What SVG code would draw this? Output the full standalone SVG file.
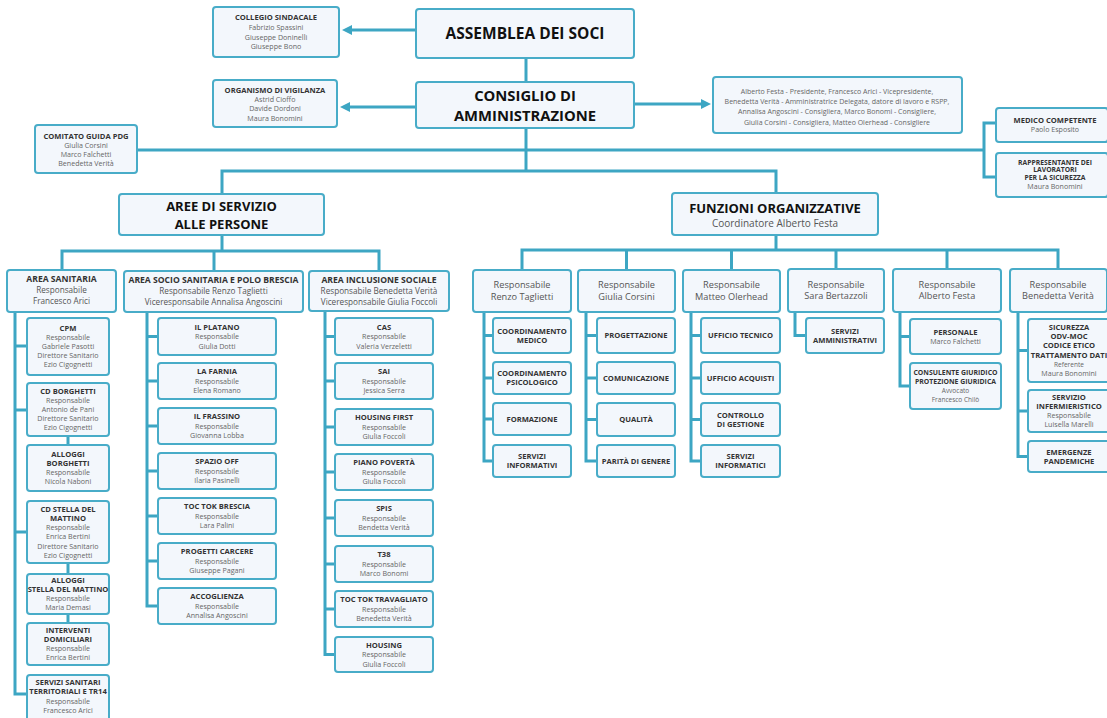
<svg xmlns="http://www.w3.org/2000/svg" width="1107" height="718" viewBox="0 0 1107 718">
<defs>
<style>
.b{fill:#F3F7FC;stroke:#48ACC8;stroke-width:2}
.c{fill:none;stroke:#3DA6C3;stroke-width:3;stroke-linejoin:miter}
text{font-family:'Open Sans','Noto Sans',sans-serif;text-anchor:middle}
.h1{font-size:15.5px;font-weight:bold;fill:#111}
.h2{font-size:13px;font-weight:bold;fill:#111}
.sub{font-size:10px;fill:#555}
.at{font-size:8.6px;font-weight:bold;fill:#333}
.ar{font-size:8.2px;fill:#555}
.fr{font-size:9.2px;fill:#555}
.ct{font-size:7.6px;font-weight:bold;fill:#333}
.cr{font-size:7.1px;fill:#666}
</style>
<marker id="ah" markerUnits="userSpaceOnUse" markerWidth="11" markerHeight="11" refX="0" refY="5.5" orient="auto"><path d="M0,0.5 L10,5.5 L0,10.5 z" fill="#3DA6C3"/></marker>
</defs>
<rect width="1107" height="718" fill="#fff"/>

<g id="connectors">
<path class="c" d="M416,30 H352" marker-end="url(#ah)"/>
<path class="c" d="M416,107 H350" marker-end="url(#ah)"/>
<path class="c" d="M634,104 H701" marker-end="url(#ah)"/>
<path class="c" d="M526,58 V82"/>
<path class="c" d="M526,128 V171"/>
<path class="c" d="M137,150 H984"/>
<path class="c" d="M996,123 H984 V177 H996"/>
<path class="c" d="M222,194 V171 H776 V193"/>
<path class="c" d="M222,235 V251"/>
<path class="c" d="M62,270 V251 H379 V271"/>
<path class="c" d="M214,251 V271"/>
<path class="c" d="M776,235 V250"/>
<path class="c" d="M522,270 V250 H1058 V269"/>
<path class="c" d="M626.5,250 V270"/>
<path class="c" d="M731.5,250 V270"/>
<path class="c" d="M836,250 V269"/>
<path class="c" d="M947,250 V269"/>
<path class="c" d="M15,312 V694 H27"/>
<path class="c" d="M15,346 H27"/>
<path class="c" d="M15,410 H27"/>
<path class="c" d="M15,532 H27"/>
<path class="c" d="M68,436 V445"/>
<path class="c" d="M68,563 V574"/>
<path class="c" d="M68,614 V623"/>
<path class="c" d="M147,312 V606 H158"/>
<path class="c" d="M147,336.5 H158 M147,381 H158 M147,426 H158 M147,471 H158 M147,516 H158 M147,561 H158"/>
<path class="c" d="M325,311 V654.5 H335"/>
<path class="c" d="M325,336.5 H335 M325,381 H335 M325,427 H335 M325,472 H335 M325,518 H335 M325,564 H335 M325,609 H335"/>
<path class="c" d="M484,312 V461 H493"/>
<path class="c" d="M484,335.5 H493 M484,378 H493 M484,419 H493"/>
<path class="c" d="M586,312 V461 H597"/>
<path class="c" d="M586,335.5 H597 M586,378 H597 M586,419.5 H597"/>
<path class="c" d="M691,312 V461 H701"/>
<path class="c" d="M691,335.5 H701 M691,378 H701 M691,419.5 H701"/>
<path class="c" d="M795,312 V335.5 H806"/>
<path class="c" d="M900,312 V386 H910"/>
<path class="c" d="M900,336.5 H910"/>
<path class="c" d="M1018,312 V456.5 H1028"/>
<path class="c" d="M1018,350.5 H1028 M1018,411 H1028"/>
</g>

<g id="collegio"><rect class="b" x="213" y="7" width="126" height="50" rx="3"/>
<text class="ct" x="276" y="20">COLLEGIO SINDACALE</text>
<text class="cr" x="276" y="30">Fabrizio Spassini</text>
<text class="cr" x="276" y="39.5">Giuseppe Doninelli</text>
<text class="cr" x="276" y="49">Giuseppe Bono</text></g>

<g id="assemblea"><rect class="b" x="416" y="9" width="218" height="49" rx="3"/>
<text class="h1" x="525" y="39">ASSEMBLEA DEI SOCI</text></g>

<g id="organismo"><rect class="b" x="213" y="80" width="124" height="47" rx="3"/>
<text class="ct" x="275" y="92.5">ORGANISMO DI VIGILANZA</text>
<text class="cr" x="275" y="101.5">Astrid Cioffo</text>
<text class="cr" x="275" y="111">Davide Dordoni</text>
<text class="cr" x="275" y="120.5">Maura Bonomini</text></g>

<g id="cda"><rect class="b" x="416" y="82" width="218" height="46" rx="3"/>
<text class="h1" x="525" y="100.5" style="font-size:14.8px">CONSIGLIO DI</text>
<text class="h1" x="525" y="121" style="font-size:14.8px">AMMINISTRAZIONE</text></g>

<g id="membri"><rect class="b" x="713" y="77" width="249" height="56" rx="3"/>
<text class="cr" x="837" y="93.5" style="font-size:7px">Alberto Festa - Presidente, Francesco Arici - Vicepresidente,</text>
<text class="cr" x="837" y="103.8" style="font-size:7px">Benedetta Verità - Amministratrice Delegata, datore di lavoro e RSPP,</text>
<text class="cr" x="837" y="114.2" style="font-size:7px">Annalisa Angoscini - Consigliera, Marco Bonomi - Consigliere,</text>
<text class="cr" x="837" y="124.5" style="font-size:7px">Giulia Corsini - Consigliera, Matteo Olerhead - Consigliere</text></g>

<g id="comitato"><rect class="b" x="35" y="125" width="102" height="48" rx="3"/>
<text class="ct" x="86" y="138.5">COMITATO GUIDA PDG</text>
<text class="cr" x="86" y="147.5">Giulia Corsini</text>
<text class="cr" x="86" y="156.5">Marco Falchetti</text>
<text class="cr" x="86" y="165.5">Benedetta Verità</text></g>

<g id="medico"><rect class="b" x="996" y="108" width="112" height="34" rx="3"/>
<text class="ct" x="1055" y="122.5">MEDICO COMPETENTE</text>
<text class="cr" x="1055" y="131.5">Paolo Esposito</text></g>

<g id="rls"><rect class="b" x="996" y="153" width="112" height="44" rx="3"/>
<text class="ct" x="1055" y="164.5" style="font-size:6.8px">RAPPRESENTANTE DEI</text>
<text class="ct" x="1055" y="172" style="font-size:6.8px">LAVORATORI</text>
<text class="ct" x="1055" y="179.5" style="font-size:6.8px">PER LA SICUREZZA</text>
<text class="cr" x="1055" y="188.5">Maura Bonomini</text></g>

<g id="aree"><rect class="b" x="119" y="194" width="205" height="41" rx="3"/>
<text class="h2" x="221.5" y="211">AREE DI SERVIZIO</text>
<text class="h2" x="221.5" y="229">ALLE PERSONE</text></g>

<g id="funzioni"><rect class="b" x="672" y="193" width="206" height="42" rx="3"/>
<text class="h2" x="775" y="213">FUNZIONI ORGANIZZATIVE</text>
<text class="sub" x="775" y="227">Coordinatore Alberto Festa</text></g>

<g id="area-sanitaria"><rect class="b" x="7" y="270" width="109" height="42" rx="3"/>
<text class="at" x="61.5" y="282">AREA SANITARIA</text>
<text class="ar" x="61.5" y="293">Responsabile</text>
<text class="ar" x="61.5" y="304">Francesco Arici</text></g>

<g id="area-socio"><rect class="b" x="124" y="271" width="179" height="41" rx="3"/>
<text class="at" x="213.5" y="283">AREA SOCIO SANITARIA E POLO BRESCIA</text>
<text class="ar" x="213.5" y="294">Responsabile Renzo Taglietti</text>
<text class="ar" x="213.5" y="304.5">Viceresponsabile Annalisa Angoscini</text></g>

<g id="area-inclusione"><rect class="b" x="309" y="271" width="140" height="40" rx="3"/>
<text class="at" x="379" y="283">AREA INCLUSIONE SOCIALE</text>
<text class="ar" x="379" y="294">Responsabile Benedetta Verità</text>
<text class="ar" x="379" y="304.5">Viceresponsabile Giulia Foccoli</text></g>

<g id="cpm"><rect class="b" x="27" y="318" width="82" height="57" rx="3"/>
<text class="ct" x="68" y="331">CPM</text>
<text class="cr" x="68" y="340">Responsabile</text>
<text class="cr" x="68" y="349">Gabriele Pasotti</text>
<text class="cr" x="68" y="358">Direttore Sanitario</text>
<text class="cr" x="68" y="367">Ezio Cigognetti</text></g>

<g id="cd-borghetti"><rect class="b" x="27" y="383" width="82" height="53" rx="3"/>
<text class="ct" x="68" y="394">CD BORGHETTI</text>
<text class="cr" x="68" y="403">Responsabile</text>
<text class="cr" x="68" y="412">Antonio de Pani</text>
<text class="cr" x="68" y="421">Direttore Sanitario</text>
<text class="cr" x="68" y="430">Ezio Cigognetti</text></g>

<g id="alloggi-borghetti"><rect class="b" x="27" y="445" width="82" height="46" rx="3"/>
<text class="ct" x="68" y="457">ALLOGGI</text>
<text class="ct" x="68" y="466">BORGHETTI</text>
<text class="cr" x="68" y="475">Responsabile</text>
<text class="cr" x="68" y="484">Nicola Naboni</text></g>

<g id="cd-stella"><rect class="b" x="27" y="501" width="82" height="62" rx="3"/>
<text class="ct" x="68" y="511.5">CD STELLA DEL</text>
<text class="ct" x="68" y="520.8">MATTINO</text>
<text class="cr" x="68" y="530.1">Responsabile</text>
<text class="cr" x="68" y="539.4">Enrica Bertini</text>
<text class="cr" x="68" y="548.7">Direttore Sanitario</text>
<text class="cr" x="68" y="558">Ezio Cigognetti</text></g>

<g id="alloggi-stella"><rect class="b" x="27" y="574" width="82" height="40" rx="3"/>
<text class="ct" x="68" y="583">ALLOGGI</text>
<text class="ct" x="68" y="592">STELLA DEL MATTINO</text>
<text class="cr" x="68" y="601">Responsabile</text>
<text class="cr" x="68" y="610">Maria Demasi</text></g>

<g id="interventi"><rect class="b" x="27" y="623" width="82" height="42" rx="3"/>
<text class="ct" x="68" y="633">INTERVENTI</text>
<text class="ct" x="68" y="642">DOMICILIARI</text>
<text class="cr" x="68" y="651">Responsabile</text>
<text class="cr" x="68" y="660">Enrica Bertini</text></g>

<g id="servizi-sanitari"><rect class="b" x="27" y="675" width="82" height="48" rx="3"/>
<text class="ct" x="68" y="684.5">SERVIZI SANITARI</text>
<text class="ct" x="68" y="694">TERRITORIALI E TR14</text>
<text class="cr" x="68" y="703.5">Responsabile</text>
<text class="cr" x="68" y="712.5">Francesco Arici</text></g>

<g id="platano"><rect class="b" x="158" y="318" width="118" height="37" rx="3"/>
<text class="ct" x="217" y="329.5">IL PLATANO</text>
<text class="cr" x="217" y="339">Responsabile</text>
<text class="cr" x="217" y="348.5">Giulia Dotti</text></g>
<g id="farnia"><rect class="b" x="158" y="363" width="118" height="36" rx="3"/>
<text class="ct" x="217" y="374">LA FARNIA</text>
<text class="cr" x="217" y="383.5">Responsabile</text>
<text class="cr" x="217" y="393">Elena Romano</text></g>
<g id="frassino"><rect class="b" x="158" y="408" width="118" height="36" rx="3"/>
<text class="ct" x="217" y="419">IL FRASSINO</text>
<text class="cr" x="217" y="428.5">Responsabile</text>
<text class="cr" x="217" y="438">Giovanna Lobba</text></g>
<g id="spazio-off"><rect class="b" x="158" y="453" width="118" height="36" rx="3"/>
<text class="ct" x="217" y="464">SPAZIO OFF</text>
<text class="cr" x="217" y="473.5">Responsabile</text>
<text class="cr" x="217" y="483">Ilaria Pasinelli</text></g>
<g id="toc-tok-brescia"><rect class="b" x="158" y="498" width="118" height="36" rx="3"/>
<text class="ct" x="217" y="509">TOC TOK BRESCIA</text>
<text class="cr" x="217" y="518.5">Responsabile</text>
<text class="cr" x="217" y="528">Lara Palini</text></g>
<g id="progetti-carcere"><rect class="b" x="158" y="543" width="118" height="36" rx="3"/>
<text class="ct" x="217" y="554">PROGETTI CARCERE</text>
<text class="cr" x="217" y="563.5">Responsabile</text>
<text class="cr" x="217" y="573">Giuseppe Pagani</text></g>
<g id="accoglienza"><rect class="b" x="158" y="588" width="118" height="36" rx="3"/>
<text class="ct" x="217" y="599">ACCOGLIENZA</text>
<text class="cr" x="217" y="608.5">Responsabile</text>
<text class="cr" x="217" y="618">Annalisa Angoscini</text></g>

<g id="cas"><rect class="b" x="335" y="318" width="98" height="37" rx="3"/>
<text class="ct" x="384" y="329.5">CAS</text>
<text class="cr" x="384" y="339">Responsabile</text>
<text class="cr" x="384" y="348.5">Valeria Verzeletti</text></g>
<g id="sai"><rect class="b" x="335" y="363" width="98" height="36" rx="3"/>
<text class="ct" x="384" y="374">SAI</text>
<text class="cr" x="384" y="383.5">Responsabile</text>
<text class="cr" x="384" y="393">Jessica Serra</text></g>
<g id="housing-first"><rect class="b" x="335" y="409" width="98" height="36" rx="3"/>
<text class="ct" x="384" y="420">HOUSING FIRST</text>
<text class="cr" x="384" y="429.5">Responsabile</text>
<text class="cr" x="384" y="439">Giulia Foccoli</text></g>
<g id="piano-poverta"><rect class="b" x="335" y="454" width="98" height="36" rx="3"/>
<text class="ct" x="384" y="465">PIANO POVERTÀ</text>
<text class="cr" x="384" y="474.5">Responsabile</text>
<text class="cr" x="384" y="484">Giulia Foccoli</text></g>
<g id="spis"><rect class="b" x="335" y="500" width="98" height="36" rx="3"/>
<text class="ct" x="384" y="511">SPIS</text>
<text class="cr" x="384" y="520.5">Responsabile</text>
<text class="cr" x="384" y="530">Bendetta Verità</text></g>
<g id="t38"><rect class="b" x="335" y="546" width="98" height="36" rx="3"/>
<text class="ct" x="384" y="557">T38</text>
<text class="cr" x="384" y="566.5">Responsabile</text>
<text class="cr" x="384" y="576">Marco Bonomi</text></g>
<g id="toc-tok-travagliato"><rect class="b" x="335" y="591" width="98" height="36" rx="3"/>
<text class="ct" x="384" y="602">TOC TOK TRAVAGLIATO</text>
<text class="cr" x="384" y="611.5">Responsabile</text>
<text class="cr" x="384" y="621">Benedetta Verità</text></g>
<g id="housing"><rect class="b" x="335" y="637" width="98" height="35" rx="3"/>
<text class="ct" x="384" y="647.5">HOUSING</text>
<text class="cr" x="384" y="657">Responsabile</text>
<text class="cr" x="384" y="666.5">Giulia Foccoli</text></g>

<g id="resp-taglietti"><rect class="b" x="473" y="270" width="98" height="42" rx="3"/>
<text class="fr" x="522" y="288">Responsabile</text>
<text class="fr" x="522" y="299.5">Renzo Taglietti</text></g>
<g id="resp-corsini"><rect class="b" x="578" y="270" width="97" height="42" rx="3"/>
<text class="fr" x="626.5" y="288">Responsabile</text>
<text class="fr" x="626.5" y="299.5">Giulia Corsini</text></g>
<g id="resp-olerhead"><rect class="b" x="683" y="270" width="97" height="42" rx="3"/>
<text class="fr" x="731.5" y="288">Responsabile</text>
<text class="fr" x="731.5" y="299.5">Matteo Olerhead</text></g>
<g id="resp-bertazzoli"><rect class="b" x="788" y="269" width="96" height="43" rx="3"/>
<text class="fr" x="836" y="287.5">Responsabile</text>
<text class="fr" x="836" y="299">Sara Bertazzoli</text></g>
<g id="resp-festa"><rect class="b" x="893" y="269" width="108" height="43" rx="3"/>
<text class="fr" x="947" y="287.5">Responsabile</text>
<text class="fr" x="947" y="299">Alberto Festa</text></g>
<g id="resp-verita"><rect class="b" x="1010" y="269" width="97" height="43" rx="3"/>
<text class="fr" x="1058" y="287.5">Responsabile</text>
<text class="fr" x="1058" y="299">Benedetta Verità</text></g>

<g id="coord-medico"><rect class="b" x="493" y="318" width="78" height="35" rx="3"/>
<text class="ct" x="532" y="333.5">COORDINAMENTO</text>
<text class="ct" x="532" y="342.5">MEDICO</text></g>
<g id="coord-psicologico"><rect class="b" x="493" y="362" width="78" height="32" rx="3"/>
<text class="ct" x="532" y="376">COORDINAMENTO</text>
<text class="ct" x="532" y="385">PSICOLOGICO</text></g>
<g id="formazione"><rect class="b" x="493" y="403" width="78" height="32" rx="3"/>
<text class="ct" x="532" y="421.5">FORMAZIONE</text></g>
<g id="servizi-informativi"><rect class="b" x="493" y="445" width="78" height="32" rx="3"/>
<text class="ct" x="532" y="459">SERVIZI</text>
<text class="ct" x="532" y="468">INFORMATIVI</text></g>

<g id="progettazione"><rect class="b" x="597" y="318" width="78" height="35" rx="3"/>
<text class="ct" x="636" y="338">PROGETTAZIONE</text></g>
<g id="comunicazione"><rect class="b" x="597" y="362" width="78" height="32" rx="3"/>
<text class="ct" x="636" y="380.5">COMUNICAZIONE</text></g>
<g id="qualita"><rect class="b" x="597" y="403" width="78" height="33" rx="3"/>
<text class="ct" x="636" y="422">QUALITÀ</text></g>
<g id="parita"><rect class="b" x="597" y="445" width="78" height="32" rx="3"/>
<text class="ct" x="636" y="463.5">PARITÀ DI GENERE</text></g>

<g id="ufficio-tecnico"><rect class="b" x="701" y="318" width="79" height="35" rx="3"/>
<text class="ct" x="740.5" y="338">UFFICIO TECNICO</text></g>
<g id="ufficio-acquisti"><rect class="b" x="701" y="362" width="79" height="32" rx="3"/>
<text class="ct" x="740.5" y="380.5">UFFICIO ACQUISTI</text></g>
<g id="controllo"><rect class="b" x="701" y="403" width="79" height="33" rx="3"/>
<text class="ct" x="740.5" y="417.5">CONTROLLO</text>
<text class="ct" x="740.5" y="426.5">DI GESTIONE</text></g>
<g id="servizi-informatici"><rect class="b" x="701" y="445" width="79" height="32" rx="3"/>
<text class="ct" x="740.5" y="459">SERVIZI</text>
<text class="ct" x="740.5" y="468">INFORMATICI</text></g>

<g id="servizi-amministrativi"><rect class="b" x="806" y="318" width="78" height="35" rx="3"/>
<text class="ct" x="845" y="333.5">SERVIZI</text>
<text class="ct" x="845" y="342.5">AMMINISTRATIVI</text></g>

<g id="personale"><rect class="b" x="910" y="319" width="91" height="35" rx="3"/>
<text class="ct" x="955.5" y="334.5">PERSONALE</text>
<text class="cr" x="955.5" y="343.5">Marco Falchetti</text></g>
<g id="consulente"><rect class="b" x="910" y="363" width="91" height="46" rx="3"/>
<text class="ct" x="955.5" y="375" style="font-size:6.9px">CONSULENTE GIURIDICO</text>
<text class="ct" x="955.5" y="384" style="font-size:6.9px">PROTEZIONE GIURIDICA</text>
<text class="cr" x="955.5" y="393" style="font-size:6.5px">Avvocato</text>
<text class="cr" x="955.5" y="402" style="font-size:6.5px">Francesco Chilò</text></g>

<g id="sicurezza"><rect class="b" x="1028" y="319" width="82" height="63" rx="3"/>
<text class="ct" x="1069" y="330">SICUREZZA</text>
<text class="ct" x="1069" y="339.2">ODV-MOC</text>
<text class="ct" x="1069" y="348.4">CODICE ETICO</text>
<text class="ct" x="1069" y="357.6">TRATTAMENTO DATI</text>
<text class="cr" x="1069" y="366.8" style="font-size:6.5px">Referente</text>
<text class="cr" x="1069" y="376">Maura Bonomini</text></g>
<g id="infermieristico"><rect class="b" x="1028" y="390" width="82" height="42" rx="3"/>
<text class="ct" x="1069" y="400">SERVIZIO</text>
<text class="ct" x="1069" y="409">INFERMIERISTICO</text>
<text class="cr" x="1069" y="418">Responsabile</text>
<text class="cr" x="1069" y="427">Luisella Marelli</text></g>
<g id="emergenze"><rect class="b" x="1028" y="441" width="82" height="31" rx="3"/>
<text class="ct" x="1069" y="454.5">EMERGENZE</text>
<text class="ct" x="1069" y="463.5">PANDEMICHE</text></g>
</svg>
